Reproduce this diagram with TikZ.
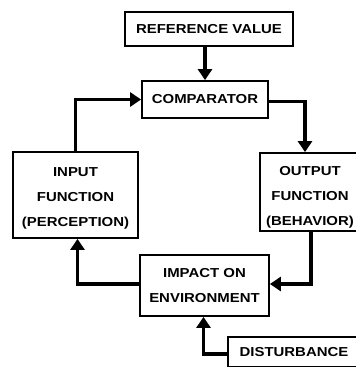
\documentclass[tikz,border=0pt]{standalone}
\usepackage{fontspec}
\setmainfont[FakeStretch=1.15]{Liberation Sans}
\usetikzlibrary{arrows.meta}
% strut that lowers a multi-line label inside its box
\newcommand{\lowerby}[1]{\rule{0pt}{\dimexpr 9.5pt+2\dimexpr #1\relax\relax}}
\begin{document}
\begin{tikzpicture}[x=1pt,y=-1pt,
  blk/.style={draw=black, line width=1.8pt, fill=white, align=center, inner sep=0pt,
    font=\bfseries\fontsize{13}{25}\selectfont},
  flow/.style={line width=3.6pt, -{Triangle[length=11pt,width=14pt]}}]
\useasboundingbox (0,0) rectangle (356,367);
\clip (0,0) rectangle (356,367);
% blocks of the control loop
\node[blk, minimum width=168pt, minimum height=34pt] (ref) at (209,29) {REFERENCE VALUE};
\node[blk, minimum width=126pt, minimum height=37pt] (comp) at (205,99.5) {COMPARATOR};
\node[blk, minimum width=125pt, minimum height=86pt] (input) at (75.5,195) {\lowerby{3pt}INPUT\\FUNCTION\\(PERCEPTION)};
\node[blk, minimum width=100pt, minimum height=78pt] (output) at (310,192) {\lowerby{5pt}OUTPUT\\FUNCTION\\(BEHAVIOR)};
\node[blk, minimum width=129pt, minimum height=61pt] (impact) at (204.5,285.5) {IMPACT ON\\ENVIRONMENT};
\node[blk, minimum width=132pt, minimum height=30pt] (dist) at (294,352) {DISTURBANCE};
% signal paths
\draw[flow] (comp.north |- ref.south) -- (comp.north);
\draw[flow] ([yshift=-2pt]comp.east) -| ([xshift=-5pt]output.north);
\draw[flow] (input.north) |- (comp.west);
\draw[flow] ([xshift=1pt]output.south) |- ([yshift=1.5pt]impact.east);
\draw[flow] ([yshift=1.5pt]impact.west) -| ([xshift=2pt]input.south);
\draw[flow] ([yshift=-2pt]dist.west) -| ([xshift=-1pt]impact.south);
\end{tikzpicture}
\end{document}
